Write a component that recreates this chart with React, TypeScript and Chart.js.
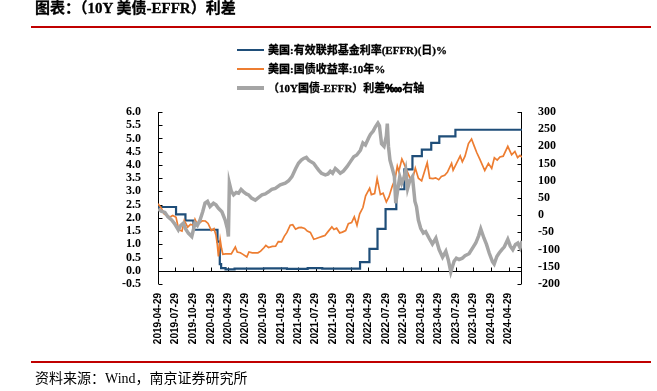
import React, { useEffect, useRef } from 'react';
import { Chart, registerables } from 'chart.js';

Chart.register(...registerables);

const titleText = '图表：（10Y 美债-EFFR）利差';
const sourceText = '资料来源：Wind，南京证券研究所';
const legendLabels = ['美国:有效联邦基金利率(EFFR)(日)%', '美国:国债收益率:10年%', '（10Y国债-EFFR）利差‱右轴'];
const seriesColors = ['#1F4E79', '#ED7D31', '#A5A5A5'];

const xStart = '2019-04-29';
const xEnd = '2024-07-08';
const xTickLabels = [
  '2019-04-29', '2019-07-29', '2019-10-29', '2020-01-29', '2020-04-29', '2020-07-29', '2020-10-29',
  '2021-01-29', '2021-04-29', '2021-07-29', '2021-10-29', '2022-01-29', '2022-04-29', '2022-07-29',
  '2022-10-29', '2023-01-29', '2023-04-29', '2023-07-29', '2023-10-29', '2024-01-29', '2024-04-29',
];

const leftMin = -0.5;
const leftMax = 6;
const leftStep = 0.5;
const rightMin = -200;
const rightMax = 300;
const rightStep = 50;

// EFFR (stepped)
const effrDates = [
  '2019-04-29', '2019-08-01', '2019-09-19', '2019-10-31', '2020-03-04', '2020-03-16', '2020-03-23',
  '2020-04-15', '2020-06-01', '2020-11-01', '2021-03-01', '2021-06-17', '2021-09-01', '2022-03-17',
  '2022-05-05', '2022-06-16', '2022-07-28', '2022-09-22', '2022-11-03', '2022-12-15', '2023-02-02',
  '2023-03-23', '2023-05-04', '2023-07-27', '2024-07-08',
];
const effrValues = [
  2.41, 2.13, 1.9, 1.55, 1.1, 0.25, 0.1,
  0.05, 0.08, 0.09, 0.07, 0.1, 0.08, 0.33,
  0.83, 1.58, 2.33, 3.08, 3.83, 4.33, 4.58,
  4.83, 5.08, 5.33, 5.33,
];

// US 10Y yield
const yieldDates = [
  '2019-04-29', '2019-05-15', '2019-06-01', '2019-06-15', '2019-07-01', '2019-07-15', '2019-08-01',
  '2019-08-15', '2019-09-01', '2019-09-13', '2019-10-01', '2019-10-15', '2019-11-01', '2019-11-08',
  '2019-11-15', '2019-12-01', '2019-12-15', '2020-01-01', '2020-01-15', '2020-02-01', '2020-02-15',
  '2020-02-25', '2020-03-03', '2020-03-09', '2020-03-18', '2020-03-25', '2020-04-01', '2020-04-15',
  '2020-05-01', '2020-05-15', '2020-06-05', '2020-06-15', '2020-07-01', '2020-07-15', '2020-08-04',
  '2020-08-15', '2020-09-01', '2020-09-15', '2020-10-01', '2020-10-15', '2020-11-01', '2020-11-11',
  '2020-11-25', '2020-12-15', '2021-01-01', '2021-01-15', '2021-02-01', '2021-02-15', '2021-03-01',
  '2021-03-18', '2021-03-31', '2021-04-15', '2021-05-01', '2021-05-15', '2021-06-01', '2021-06-15',
  '2021-07-01', '2021-07-19', '2021-08-01', '2021-08-15', '2021-09-01', '2021-09-15', '2021-10-01',
  '2021-10-21', '2021-11-01', '2021-11-15', '2021-12-01', '2021-12-15', '2022-01-01', '2022-01-15',
  '2022-02-01', '2022-02-15', '2022-03-01', '2022-03-15', '2022-04-01', '2022-04-15', '2022-05-06',
  '2022-05-15', '2022-06-01', '2022-06-14', '2022-07-01', '2022-07-15', '2022-08-01', '2022-08-15',
  '2022-09-01', '2022-09-15', '2022-09-27', '2022-10-05', '2022-10-21', '2022-11-01', '2022-11-15',
  '2022-12-01', '2022-12-15', '2022-12-30', '2023-01-15', '2023-02-01', '2023-03-02', '2023-03-15',
  '2023-04-01', '2023-04-15', '2023-05-01', '2023-05-15', '2023-06-01', '2023-06-15', '2023-07-07',
  '2023-07-15', '2023-08-01', '2023-08-21', '2023-09-01', '2023-09-15', '2023-10-03', '2023-10-19',
  '2023-11-01', '2023-11-15', '2023-12-01', '2023-12-27', '2024-01-15', '2024-02-01', '2024-02-15',
  '2024-03-01', '2024-03-15', '2024-04-01', '2024-04-25', '2024-05-15', '2024-06-01', '2024-06-15',
  '2024-06-28', '2024-07-08',
];
const yieldValues = [
  2.53, 2.38, 2.14, 2.09, 2.03, 2.09, 2.02,
  1.55, 1.5, 1.9, 1.65, 1.75, 1.72, 1.94,
  1.83, 1.8, 1.89, 1.88, 1.79, 1.52, 1.59,
  1.35, 1.0, 0.54, 1.18, 0.85, 0.62, 0.64,
  0.64, 0.64, 0.9, 0.71, 0.68, 0.62, 0.52,
  0.71, 0.68, 0.68, 0.68, 0.74, 0.87, 0.96,
  0.88, 0.92, 0.93, 1.1, 1.09, 1.3, 1.45,
  1.72, 1.74, 1.57, 1.63, 1.64, 1.6, 1.5,
  1.45, 1.19, 1.22, 1.26, 1.3, 1.33, 1.48,
  1.66, 1.56, 1.61, 1.43, 1.46, 1.52, 1.78,
  1.82, 2.04, 1.72, 2.15, 2.39, 2.83, 3.12,
  2.88, 2.92, 3.48, 2.88, 2.93, 2.6, 2.8,
  3.2, 3.45, 3.95, 3.75, 4.22, 4.05, 3.8,
  3.53, 3.45, 3.88, 3.5, 3.4, 4.08, 3.5,
  3.48, 3.51, 3.44, 3.56, 3.61, 3.72, 4.06,
  3.8, 4.05, 4.34, 4.12, 4.33, 4.81, 4.98,
  4.73, 4.47, 4.22, 3.79, 4.06, 3.87, 4.27,
  4.18, 4.3, 4.33, 4.7, 4.38, 4.51, 4.28,
  4.36, 4.3,
];

// Spread (bp, right axis)
const spreadDates = [
  '2019-04-29', '2019-05-15', '2019-06-04', '2019-06-20', '2019-07-09', '2019-07-25', '2019-08-13',
  '2019-08-25', '2019-09-08', '2019-09-20', '2019-10-04', '2019-10-22', '2019-11-08', '2019-11-20',
  '2019-12-04', '2019-12-18', '2019-12-30', '2020-01-12', '2020-01-25', '2020-02-12', '2020-02-25',
  '2020-03-09', '2020-03-27', '2020-04-13', '2020-04-25', '2020-04-30', '2020-05-05', '2020-05-15',
  '2020-05-27', '2020-06-10', '2020-06-22', '2020-07-05', '2020-07-18', '2020-08-01', '2020-08-13',
  '2020-08-28', '2020-09-17', '2020-10-05', '2020-10-22', '2020-11-08', '2020-11-25', '2020-12-12',
  '2020-12-30', '2021-01-25', '2021-02-20', '2021-03-10', '2021-03-27', '2021-04-15', '2021-04-30',
  '2021-05-15', '2021-05-27', '2021-06-10', '2021-06-22', '2021-07-05', '2021-07-18', '2021-08-01',
  '2021-08-13', '2021-08-28', '2021-09-17', '2021-10-01', '2021-10-13', '2021-10-25', '2021-11-08',
  '2021-11-20', '2021-12-04', '2021-12-20', '2022-01-08', '2022-01-25', '2022-02-12', '2022-02-28',
  '2022-03-19', '2022-04-01', '2022-04-14', '2022-05-01', '2022-05-10', '2022-05-25', '2022-06-05',
  '2022-06-18', '2022-06-26', '2022-07-07', '2022-07-20', '2022-08-01', '2022-08-06', '2022-08-12',
  '2022-08-20', '2022-09-01', '2022-09-12', '2022-09-19', '2022-10-01', '2022-10-10', '2022-10-20',
  '2022-11-01', '2022-11-10', '2022-11-20', '2022-12-01', '2022-12-15', '2022-12-28', '2023-01-05',
  '2023-01-15', '2023-01-27', '2023-02-10', '2023-02-22', '2023-03-12', '2023-03-29', '2023-04-16',
  '2023-05-03', '2023-05-21', '2023-06-07', '2023-06-20', '2023-07-03', '2023-07-20', '2023-08-01',
  '2023-08-15', '2023-09-01', '2023-09-15', '2023-10-06', '2023-10-25', '2023-11-10', '2023-11-25',
  '2023-12-06', '2023-12-23', '2024-01-05', '2024-01-19', '2024-02-05', '2024-02-14', '2024-02-28',
  '2024-03-11', '2024-03-25', '2024-04-07', '2024-04-25', '2024-05-08', '2024-05-21', '2024-06-04',
  '2024-06-16', '2024-06-28', '2024-07-08',
];
const spreadValues = [
  18, 12, 8, -5, -14, -25, -43,
  -30, -23, -40, -52, -62, -23, -30,
  -14, 10, 35, 40, 25, 35, 30,
  20, 10, -14, -40, -62, 93, 70,
  59, 66, 64, 75, 68, 62, 59,
  50, 44, 52, 59, 62, 68, 75,
  78, 88, 93, 100, 112, 135, 151,
  160, 165, 168, 160, 155, 151, 140,
  131, 122, 117, 120, 128, 122, 136,
  130, 122, 128, 141, 155, 170, 175,
  189, 210, 204, 225, 235, 245, 257,
  268, 260, 208, 200, 230, 266, 200,
  160, 136, 112, 35, 80, 112, 93,
  110, 131, 78, 100, 112, 40, 25,
  -14, -38, -52, -48, -67, -84, -67,
  -100, -122, -105, -130, -165, -134, -125,
  -129, -125, -118, -112, -95, -81, -60,
  -40, -67, -85, -110, -135, -142, -120,
  -110, -100, -92, -70, -90, -100, -85,
  -81, -95, -75,
];

const DAY = 86400000;
const toDay = (s: string) => (Date.parse(s + 'T00:00:00Z') - Date.parse(xStart + 'T00:00:00Z')) / DAY;
const toPoints = (dates: string[], values: number[]) => dates.map((d, i) => ({ x: toDay(d), y: values[i] }));

const axesPlugin = {
  id: 'axesPlugin',
  beforeDatasetsDraw(chart: any) {
    const { ctx, chartArea: a, scales } = chart;
    const xs = scales.x;
    const yl = scales.y;
    const yr = scales.y1;
    ctx.save();
    ctx.strokeStyle = '#000';
    ctx.lineWidth = 1;
    const lx = Math.round(a.left) + 0.5;
    const rx = Math.round(a.right) - 0.5;
    const y0 = Math.round(yl.getPixelForValue(0)) + 0.5;
    ctx.beginPath();
    ctx.moveTo(lx, a.top);
    ctx.lineTo(lx, a.bottom);
    ctx.moveTo(rx, a.top);
    ctx.lineTo(rx, a.bottom);
    ctx.moveTo(a.left, y0);
    ctx.lineTo(a.right, y0);
    yl.ticks.forEach((t: any) => {
      const py = Math.round(yl.getPixelForValue(t.value)) + 0.5;
      ctx.moveTo(lx, py);
      ctx.lineTo(lx + 4, py);
    });
    yr.ticks.forEach((t: any) => {
      const py = Math.round(yr.getPixelForValue(t.value)) + 0.5;
      ctx.moveTo(rx, py);
      ctx.lineTo(rx - 4, py);
    });
    xs.ticks.forEach((t: any) => {
      const px = Math.round(xs.getPixelForValue(t.value)) + 0.5;
      ctx.moveTo(px, y0);
      ctx.lineTo(px, y0 - 4);
    });
    ctx.stroke();
    ctx.restore();
  },
};

const serif = '"Liberation Serif", "Times New Roman", "Noto Sans CJK SC", serif';

export default function App() {
  const canvasRef = useRef<HTMLCanvasElement | null>(null);

  useEffect(() => {
    document.body.style.margin = '0';
    const canvas = canvasRef.current;
    if (!canvas) return;
    const tickLabelByDay = new Map<number, string>();
    xTickLabels.forEach((l) => tickLabelByDay.set(toDay(l), l));

    const chart = new Chart(canvas, {
      type: 'line',
      data: {
        datasets: [
          {
            label: legendLabels[0],
            data: toPoints(effrDates, effrValues),
            borderColor: seriesColors[0],
            borderWidth: 2.2,
            stepped: true,
            pointRadius: 0,
            yAxisID: 'y',
            order: 2,
          },
          {
            label: legendLabels[1],
            data: toPoints(yieldDates, yieldValues),
            borderColor: seriesColors[1],
            borderWidth: 1.7,
            pointRadius: 0,
            tension: 0,
            yAxisID: 'y',
            order: 1,
          },
          {
            label: legendLabels[2],
            data: toPoints(spreadDates, spreadValues),
            borderColor: seriesColors[2],
            borderWidth: 3.5,
            pointRadius: 0,
            tension: 0,
            yAxisID: 'y1',
            order: 0,
          },
        ],
      },
      options: {
        animation: false,
        responsive: false,
        maintainAspectRatio: false,
        layout: { padding: { left: 118, right: 95, top: 112, bottom: 47 } },
        plugins: { legend: { display: false }, tooltip: { enabled: false }, title: { display: false } },
        scales: {
          x: {
            type: 'linear',
            min: 0,
            max: toDay(xEnd),
            grid: { display: false },
            border: { display: false },
            afterBuildTicks: (scale: any) => {
              scale.ticks = xTickLabels.map((l) => ({ value: toDay(l) }));
            },
            afterFit: (scale: any) => {
              scale.height = 60;
            },
            ticks: {
              autoSkip: false,
              minRotation: 90,
              maxRotation: 90,
              padding: 1,
              color: '#000',
              font: { family: '"Liberation Sans", Arial, sans-serif', size: 10, weight: 'bold' },
              callback: (v: any) => tickLabelByDay.get(Number(v)) ?? '',
            },
          },
          y: {
            position: 'left',
            min: leftMin,
            max: leftMax,
            grid: { display: false },
            border: { display: false },
            afterFit: (scale: any) => {
              scale.width = 40;
            },
            ticks: {
              autoSkip: false,
              stepSize: leftStep,
              padding: 9,
              color: '#000',
              font: { family: serif, size: 12, weight: 'bold' },
              callback: (v: any) => Number(v).toFixed(1),
            },
          },
          y1: {
            position: 'right',
            min: rightMin,
            max: rightMax,
            grid: { display: false },
            border: { display: false },
            afterFit: (scale: any) => {
              scale.width = 40;
            },
            ticks: {
              autoSkip: false,
              stepSize: rightStep,
              padding: 8,
              color: '#000',
              font: { family: serif, size: 12, weight: 'bold' },
              callback: (v: any) => String(v),
            },
          },
        },
      },
      plugins: [axesPlugin],
    } as any);
    return () => chart.destroy();
  }, []);

  const legendTops = [42, 61, 80];
  const lineWidths = [2.5, 2, 3.5];

  return (
    <div style={{ position: 'relative', width: 657, height: 391, background: '#fff', overflow: 'hidden' }}>
      <canvas ref={canvasRef} width={657} height={391} style={{ position: 'absolute', left: 0, top: 0 }} />
      <div
        style={{
          position: 'absolute', left: 35, top: 0, lineHeight: '17px', fontSize: 15, fontWeight: 'bold',
          fontFamily: serif, color: '#000', whiteSpace: 'nowrap', WebkitTextStroke: '0.3px #000',
        }}
      >
        {titleText}
      </div>
      <div style={{ position: 'absolute', left: 31, top: 26, width: 620, height: 2, background: '#C00000' }} />
      {legendLabels.map((l, i) => (
        <div
          key={l}
          style={{
            position: 'absolute', left: 237, top: legendTops[i], height: 16, display: 'flex', alignItems: 'center',
            whiteSpace: 'nowrap',
          }}
        >
          <span style={{ display: 'inline-block', width: 27, height: lineWidths[i], background: seriesColors[i] }} />
          <span
            style={{
              marginLeft: 4, fontSize: 11, fontWeight: 'bold', fontFamily: serif, color: '#000', lineHeight: '16px',
              WebkitTextStroke: '0.3px #000',
            }}
          >
            {l}
          </span>
        </div>
      ))}
      <div style={{ position: 'absolute', left: 31, top: 361, width: 620, height: 2, background: '#C00000' }} />
      <div
        style={{
          position: 'absolute', left: 35, top: 370, lineHeight: '17px', fontSize: 14, fontFamily: serif,
          color: '#000', whiteSpace: 'nowrap',
        }}
      >
        {sourceText}
      </div>
    </div>
  );
}
